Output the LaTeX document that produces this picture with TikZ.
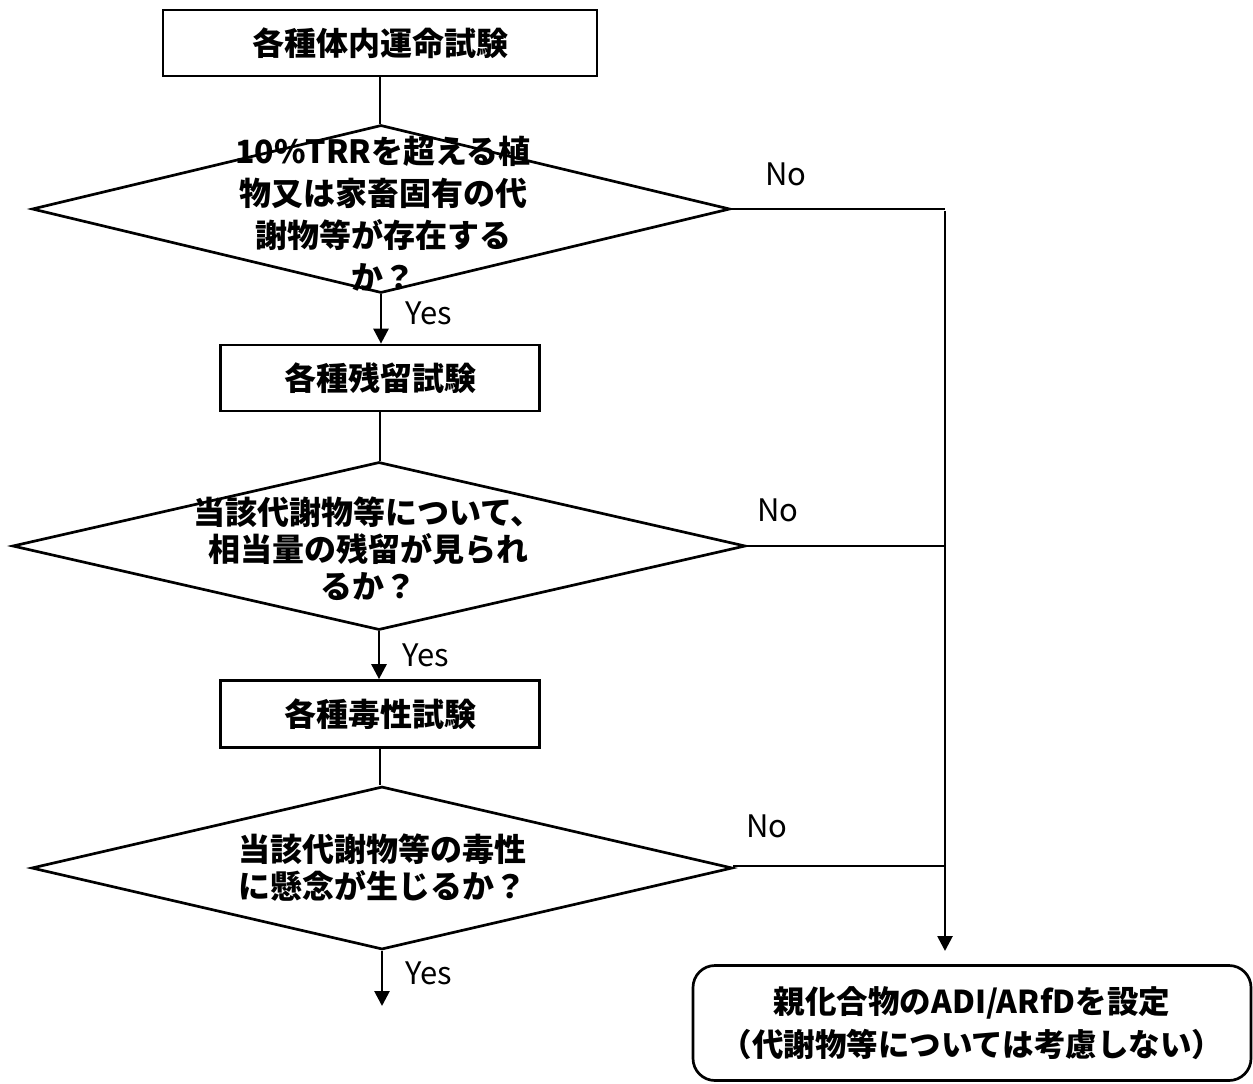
\documentclass[tikz,border=0pt]{standalone}
\usepackage{fontspec}
\setmainfont{Noto Sans CJK JP}
\usetikzlibrary{shapes.geometric,arrows.meta}
\begin{document}
\begin{tikzpicture}[x=1pt,y=-1pt,
  ln/.style={line width=2.7pt},
  arr/.style={ln,-{Triangle[width=15pt,length=15pt]}},
  procbox/.style={draw,line width=2.7pt,inner sep=0pt,font=\fontsize{32}{36}\selectfont\bfseries},
  decis/.style={draw,line width=2.7pt,diamond,inner sep=0pt},
  dtext/.style={align=center,inner sep=0pt,font=\fontsize{32}{42}\selectfont\bfseries},
  yn/.style={inner sep=0pt,font=\fontsize{31}{34}\selectfont}
]
\useasboundingbox (0,0) rectangle (1253,1084);
\fill[white] (0,0) rectangle (1253,1084);

\node[procbox,minimum width=434pt,minimum height=66pt] (b1) at (380,43) {各種体内運命試験};
\node[decis,minimum width=698pt,minimum height=168pt,aspect=4.155] (d1) at (381,209) {};
\node[dtext] (t1) at (383,214) {10\%TRRを超える植\\物又は家畜固有の代\\謝物等が存在する\\か？};

\node[procbox,minimum width=319pt,minimum height=66pt] (b2) at (380,378) {各種残留試験};
\node[decis,minimum width=733pt,minimum height=168pt,aspect=4.363] (d2) at (379,546) {};
\node[dtext,font=\fontsize{32}{37}\selectfont\bfseries] (t2) at (368,549) {当該代謝物等について、\\相当量の残留が見られ\\るか？};

\node[procbox,minimum width=319pt,minimum height=67pt] (b3) at (380,714) {各種毒性試験};
\node[decis,minimum width=701pt,minimum height=163pt,aspect=4.3] (d3) at (382,868) {};
\node[dtext,font=\fontsize{32}{37}\selectfont\bfseries] (t3) at (382,868) {当該代謝物等の毒性\\に懸念が生じるか？};

\node[draw,line width=2.7pt,rounded corners=22pt,minimum width=558pt,minimum height=115pt,inner sep=0pt,align=center,font=\fontsize{31.5}{43}\selectfont\bfseries] (fin) at (972,1023) {親化合物のADI/ARfDを設定\\（代謝物等については考慮しない）};

% main flow
\draw[ln] (b1.south) -- (b1.south |- d1.north);
\draw[arr] (d1.south) -- (d1.south |- b2.north);
\draw[ln] (b2.south) -- (b2.south |- d2.north);
\draw[arr] (d2.south) -- (d2.south |- b3.north);
\draw[ln] (b3.south) -- (b3.south |- d3.north);
\coordinate (yend) at (382,1006);
\draw[arr] (d3.south) -- (yend);

% No branches
\coordinate (j1) at (945,209);
\coordinate (j2) at (945,546);
\coordinate (j3) at (945,866);
\coordinate (jend) at (945,951);
\draw[ln] (d1.east) -- (j1);
\draw[ln] (d2.east) -- (j2);
\draw[ln] (d3.east) -- (j3 -| d3.east) -- (j3);
\draw[arr] ([yshift=-2pt]j1) -- (jend);

% labels
\node[yn] (n1) at (786,174) {No};
\node[yn] (n2) at (778,510) {No};
\node[yn] (n3) at (767,826) {No};
\node[yn] (y1) at (429,313) {Yes};
\node[yn] (y2) at (426,655) {Yes};
\node[yn] (y3) at (429,973) {Yes};
\end{tikzpicture}
\end{document}
